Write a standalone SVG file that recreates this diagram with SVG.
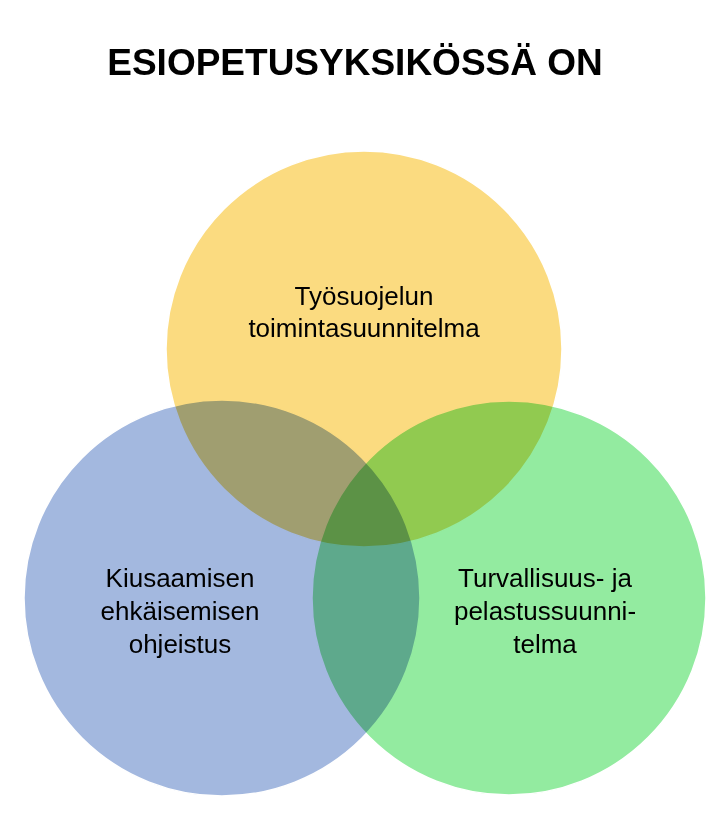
<svg xmlns="http://www.w3.org/2000/svg" width="720" height="831" viewBox="0 0 720 831">
<style>
.c{stroke:#fff;stroke-width:1.5;mix-blend-mode:multiply}
.t{font-family:"Liberation Sans",Arial,sans-serif;font-size:26px;fill:#000;text-anchor:middle}
</style>
<rect width="720" height="831" fill="#fff"/>
<text x="355" y="75" font-family="Liberation Sans,Arial,sans-serif" font-weight="bold" font-size="37" text-anchor="middle">ESIOPETUSYKSIKÖSSÄ ON</text>
<g style="isolation:isolate">
<g id="top"><circle class="c" cx="364" cy="349" r="198" fill="#FBDB80"/></g>
<g id="left"><circle class="c" cx="222" cy="598" r="198" fill="#A3B8DF"/></g>
<g id="right"><circle class="c" cx="509" cy="598" r="197" fill="#93EBA0"/></g>
</g>
<g id="labels">
<text class="t" x="364" y="305">Työsuojelun</text>
<text class="t" x="364" y="337">toimintasuunnitelma</text>
<text class="t" x="180" y="587">Kiusaamisen</text>
<text class="t" x="180" y="620">ehkäisemisen</text>
<text class="t" x="180" y="653">ohjeistus</text>
<text class="t" x="545" y="587">Turvallisuus- ja</text>
<text class="t" x="545" y="620">pelastussuunni-</text>
<text class="t" x="545" y="653">telma</text>
</g>
<g id="connectors"/>
</svg>
